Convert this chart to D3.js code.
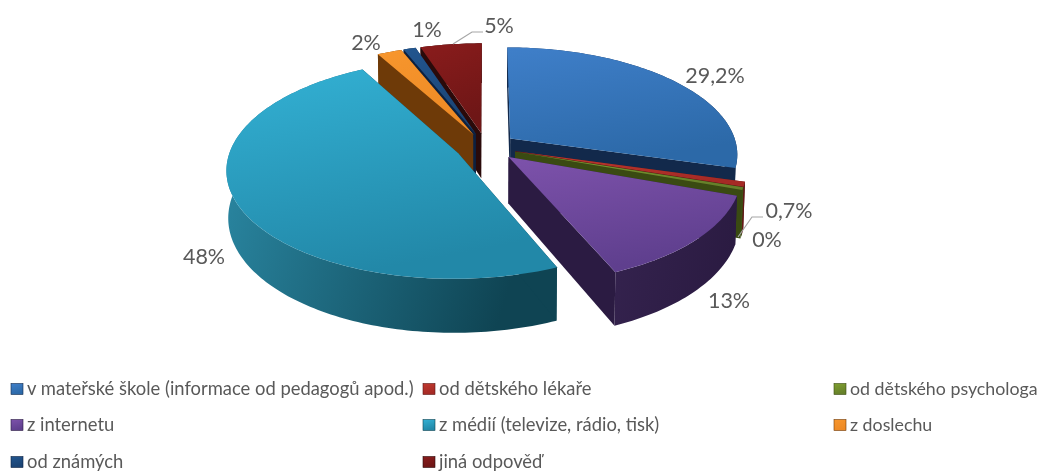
<!DOCTYPE html>
<meta charset="utf-8">
<style>
    html, body { margin: 0; background: #fff; }
    svg { display: block; filter: blur(0.45px); }
    text { font-family: Lato, "Open Sans", sans-serif; fill: #595959; }
</style>
<svg width="1042" height="471"></svg>
<script src="https://d3js.org/d3.v7.min.js"></script>
<script>

    var categories = ['v mateřské škole (informace od pedagogů apod.)', 'od dětského lékaře', 'od dětského psychologa',
        'z internetu', 'z médií (televize, rádio, tisk)', 'z doslechu', 'od známých', 'jiná odpověď']
    var values = [29.2, 0.7, 0.4, 13, 48, 2, 1, 5]   // psychologa is labelled 0% but still has a thin wedge
    var valueLabels = ['29,2%', '0,7%', '0%', '13%', '48%', '2%', '1%', '5%']

    // styling, same order as categories
    var topLight = ['#3f7fc9', '#c0392f', '#7f9f30', '#7d52ab', '#33b1d4', '#f7962d', '#22568f', '#8a1c1c']
    var topDark = ['#2c69a8', '#a52a25', '#66802a', '#5f3f8e', '#2288a8', '#ee8a25', '#1b4373', '#6e1616']
    var wallLight = ['#1a3a66', '#6d1a18', '#47581a', '#35234f', '#2c8ca8', '#85480d', '#112a4a', '#3a0e0e']
    var wallDark = ['#12294b', '#5a1614', '#3a4a12', '#2b1b42', '#0f4453', '#6e3a08', '#0d2140', '#2a0a0a']
    var labelPos = [[715, 83], [789, 218], [767, 247], [729, 308], [204, 264], [366, 50], [427, 37], [499, 33]]
    var legendPos = [[11, 389], [423, 389], [834, 389], [11, 425], [423, 425], [834, 425], [11, 462], [423, 462]]

    var cx = 486, cy = 147
    var radius = 227, flat = 106   // screen size of unit radius in x and y
    var persp = 0.14, explode = 0.135, depth = 46

    var svg = d3.select('svg')
    var defs = svg.append('defs')
    var line = d3.line()

    // (X, Y) on the pie plane, Y pointing away from the viewer; z is 0 on top, 1 on the bottom
    function project(X, Y, z) {
        var s = 1 / (1 + persp * Y)
        var shrink = z ? 0.993 : 1
        return [cx + radius * X * s * shrink, cy - flat * Y * s + depth * s * z]
    }

    var slices = d3.pie().sort(null).value(function (d) { return d })(values)

    slices.forEach(function (d, i) {
        var mid = (d.startAngle + d.endAngle) / 2
        d.index = i
        d.ox = explode * Math.sin(mid)
        d.oy = explode * Math.cos(mid)
        var n = Math.max(2, Math.ceil((d.endAngle - d.startAngle) / 0.02))
        d.arc = d3.range(n + 1).map(function (k) {
            var a = d.startAngle + (d.endAngle - d.startAngle) * k / n
            return [d.ox + Math.sin(a), d.oy + Math.cos(a)]
        })
    })

    function gradient(id, c0, c1, x2, y2) {
        var g = defs.append('linearGradient').attr('id', id)
            .attr('x1', 0).attr('y1', 0).attr('x2', x2).attr('y2', y2)
        g.append('stop').attr('offset', 0).attr('stop-color', c0)
        g.append('stop').attr('offset', 1).attr('stop-color', c1)
    }

    values.forEach(function (v, i) {
        gradient('top' + i, topLight[i], topDark[i], 0.3, 1)
        gradient('wall' + i, wallLight[i], wallDark[i], 1, 0.25)
    })

    function drawSlice(d) {
        var i = d.index
        var g = svg.append('g').attr('class', 'slice')
        var tip = [d.ox, d.oy]
        var first = d.arc[0], last = d.arc[d.arc.length - 1]
        var topPts = d.arc.map(function (p) { return project(p[0], p[1], 0) })
        var botPts = d.arc.map(function (p) { return project(p[0], p[1], 1) })

        function face(a, b) {
            return [project(a[0], a[1], 0), project(b[0], b[1], 0), project(b[0], b[1], 1), project(a[0], a[1], 1)]
        }

        var faces = [
            { y: (tip[1] + first[1]) / 2, pts: face(tip, first), fill: wallDark[i] },
            { y: (tip[1] + last[1]) / 2, pts: face(tip, last), fill: wallDark[i] },
            { y: d3.mean(d.arc, function (p) { return p[1] }), pts: topPts.concat(botPts.slice().reverse()), fill: 'url(#wall' + i + ')' }
        ]
        faces.sort(function (a, b) { return b.y - a.y })
        faces.forEach(function (f) {
            g.append('path').attr('d', line(f.pts) + 'Z').attr('fill', f.fill)
        })

        g.append('path')
            .attr('d', line([project(tip[0], tip[1], 0)].concat(topPts)) + 'Z')
            .attr('fill', 'url(#top' + i + ')')
    }

    // far slices first
    slices.slice().sort(function (a, b) { return b.oy - a.oy }).forEach(drawSlice)

    // leader lines for the crowded labels
    var leaders = [[[453, 44], [472, 32], [483, 32]], [[738, 237], [752, 217], [763, 217]]]
    svg.append('g').selectAll('path').data(leaders).enter().append('path')
        .attr('d', function (d) { return line(d) })
        .attr('fill', 'none')
        .attr('stroke', '#a6a6a6')
        .attr('stroke-width', 1.2)

    svg.append('g').selectAll('text').data(valueLabels).enter().append('text')
        .attr('x', function (d, i) { return labelPos[i][0] })
        .attr('y', function (d, i) { return labelPos[i][1] })
        .attr('text-anchor', 'middle')
        .attr('font-size', 21.5)
        .text(function (d) { return d })

    var legend = svg.append('g').selectAll('g').data(categories).enter().append('g')
        .attr('transform', function (d, i) { return 'translate(' + legendPos[i][0] + ',' + legendPos[i][1] + ')' })
    legend.append('rect')
        .attr('x', 0).attr('y', -5.5).attr('width', 12).attr('height', 11)
        .attr('fill', function (d, i) { return 'url(#top' + i + ')' })
        .attr('stroke', function (d, i) { return wallDark[i] })
        .attr('stroke-width', 0.6)
    legend.append('text')
        .attr('x', 16).attr('y', 6)
        .attr('font-size', function (d, i) { return i % 3 == 2 && i < 6 ? 17.8 : 18.4 })   // last column has to fit the page
        .text(function (d) { return d })

</script>
